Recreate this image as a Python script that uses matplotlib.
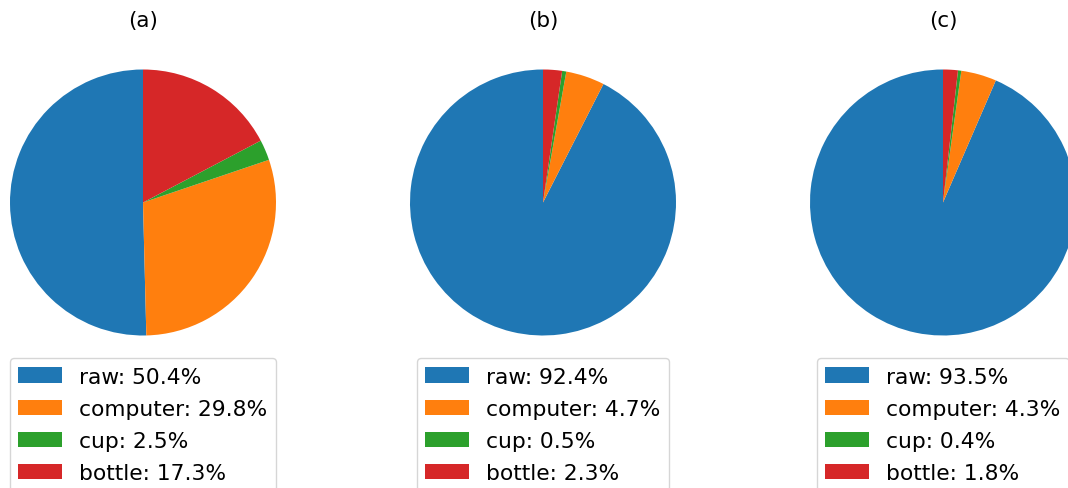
import matplotlib
matplotlib.use("Agg")
import matplotlib.pyplot as plt

categories = ["raw", "computer", "cup", "bottle"]
titles = ["(a)", "(b)", "(c)"]
shares_a = [50.4, 29.8, 2.5, 17.3]
shares_b = [92.4, 4.7, 0.5, 2.3]
shares_c = [93.5, 4.3, 0.4, 1.8]
colors = ["#1f77b4", "#ff7f0e", "#2ca02c", "#d62728"]

W, H = 1068, 489
fig = plt.figure(figsize=(W / 100, H / 100), dpi=100)

R = 133
for i, (title, shares) in enumerate(zip(titles, [shares_a, shares_b, shares_c])):
    cx, cy = 143 + 400 * i, 203.5
    ax = fig.add_axes([(cx - R) / W, (H - cy - R) / H, 2 * R / W, 2 * R / H])
    wedges, _ = ax.pie(shares, colors=colors, startangle=90, counterclock=True)
    for w in wedges:
        w.set_clip_on(False)
    ax.set_xlim(-1, 1)
    ax.set_ylim(-1, 1)
    ax.set_aspect("auto")
    ax.set_title(title, fontsize=15.4, pad=31)
    labels = [f"{c}: {v}%" for c, v in zip(categories, shares)]
    ax.legend(wedges, labels, loc="upper center",
              bbox_to_anchor=(cx / W, (H - 359) / H),
              bbox_transform=fig.transFigure,
              fontsize=15.7, labelspacing=0.555, borderaxespad=0)

fig.savefig("out.png", dpi=100)
